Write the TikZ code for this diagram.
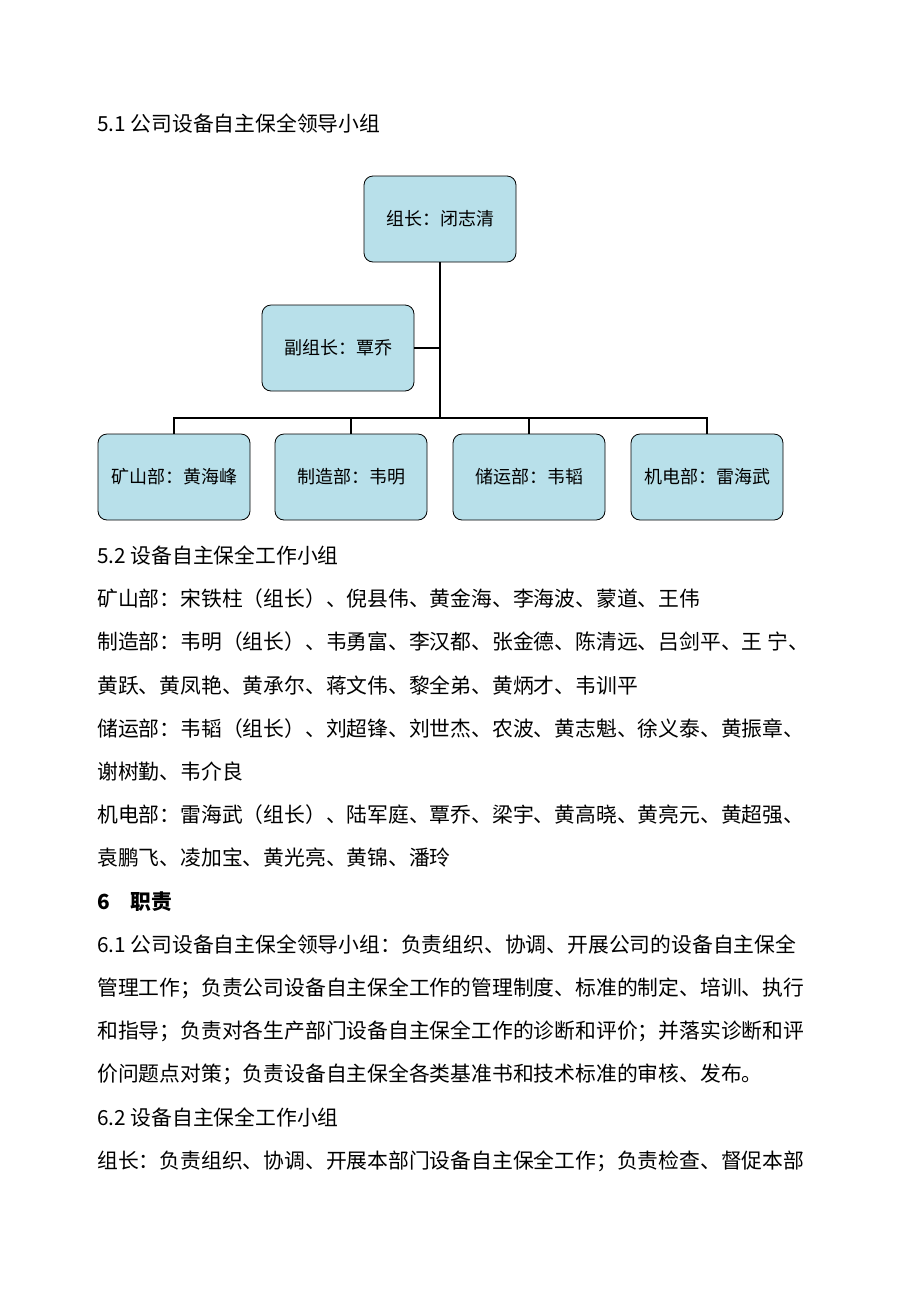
\documentclass[tikz,border=0pt]{standalone}
\usepackage{fontspec}
\setmainfont{Noto Sans CJK SC}
\usetikzlibrary{positioning}
\definecolor{boxblue}{RGB}{184,224,234}
\tikzset{
  member/.style={draw, thick, rounded corners=9pt, fill=boxblue, minimum width=152pt, minimum height=86pt, font=\fontsize{18}{18}\selectfont},
  line/.style={anchor=west, inner sep=0pt, font=\fontsize{20.8}{20.8}\selectfont},
  link/.style={line width=2.6pt}
}
\begin{document}
\begin{tikzpicture}[x=1pt,y=-1pt]
\useasboundingbox (0,0) rectangle (920,1302);
\node[line] (t51) at (97,124) {5.1 公司设备自主保全领导小组};
% chart
\node[member] (head) at (440,219) {组长：闭志清};
\node[member] (vice) at (338,348) {副组长：覃乔};
\node[member] (mine) at (174,477) {矿山部：黄海峰};
\node[member] (make) at (351,477) {制造部：韦明};
\node[member] (store) at (529,477) {储运部：韦韬};
\node[member] (elec) at (707,477) {机电部：雷海武};
\coordinate (bus) at (440,418);
\draw[link] (head.south) -- (bus);
\draw[link] (vice.east) -- (vice.east -| bus);
\draw[link] (mine.north) |- (bus) -| (elec.north);
\draw[link] (make.north) -- (make.north |- bus);
\draw[link] (store.north) -- (store.north |- bus);
% text
\node[line] (t52) at (97,556) {5.2 设备自主保全工作小组};
\node[line] (l1) at (97,599) {矿山部：宋铁柱（组长）、倪县伟、黄金海、李海波、蒙道、王伟};
\node[line] (l2) at (97,642) {制造部：韦明（组长）、韦勇富、李汉都、张金德、陈清远、吕剑平、王\ 宁、};
\node[line] (l3) at (97,686) {黄跃、黄凤艳、黄承尔、蒋文伟、黎全弟、黄炳才、韦训平};
\node[line] (l4) at (97,729) {储运部：韦韬（组长）、刘超锋、刘世杰、农波、黄志魁、徐义泰、黄振章、};
\node[line] (l5) at (97,772) {谢树勤、韦介良};
\node[line] (l6) at (97,815) {机电部：雷海武（组长）、陆军庭、覃乔、梁宇、黄高晓、黄亮元、黄超强、};
\node[line] (l7) at (97,858) {袁鹏飞、凌加宝、黄光亮、黄锦、潘玲};
\node[line, font=\fontsize{20.8}{20.8}\selectfont\bfseries] (t6) at (97,902) {6\quad 职责};
\node[line] (l8) at (97,945) {6.1 公司设备自主保全领导小组：负责组织、协调、开展公司的设备自主保全};
\node[line] (l9) at (97,988) {管理工作；负责公司设备自主保全工作的管理制度、标准的制定、培训、执行};
\node[line] (l10) at (97,1031) {和指导；负责对各生产部门设备自主保全工作的诊断和评价；并落实诊断和评};
\node[line] (l11) at (97,1074) {价问题点对策；负责设备自主保全各类基准书和技术标准的审核、发布。};
\node[line] (t62) at (97,1117) {6.2 设备自主保全工作小组};
\node[line] (l12) at (97,1161) {组长：负责组织、协调、开展本部门设备自主保全工作；负责检查、督促本部};
\end{tikzpicture}
\end{document}
